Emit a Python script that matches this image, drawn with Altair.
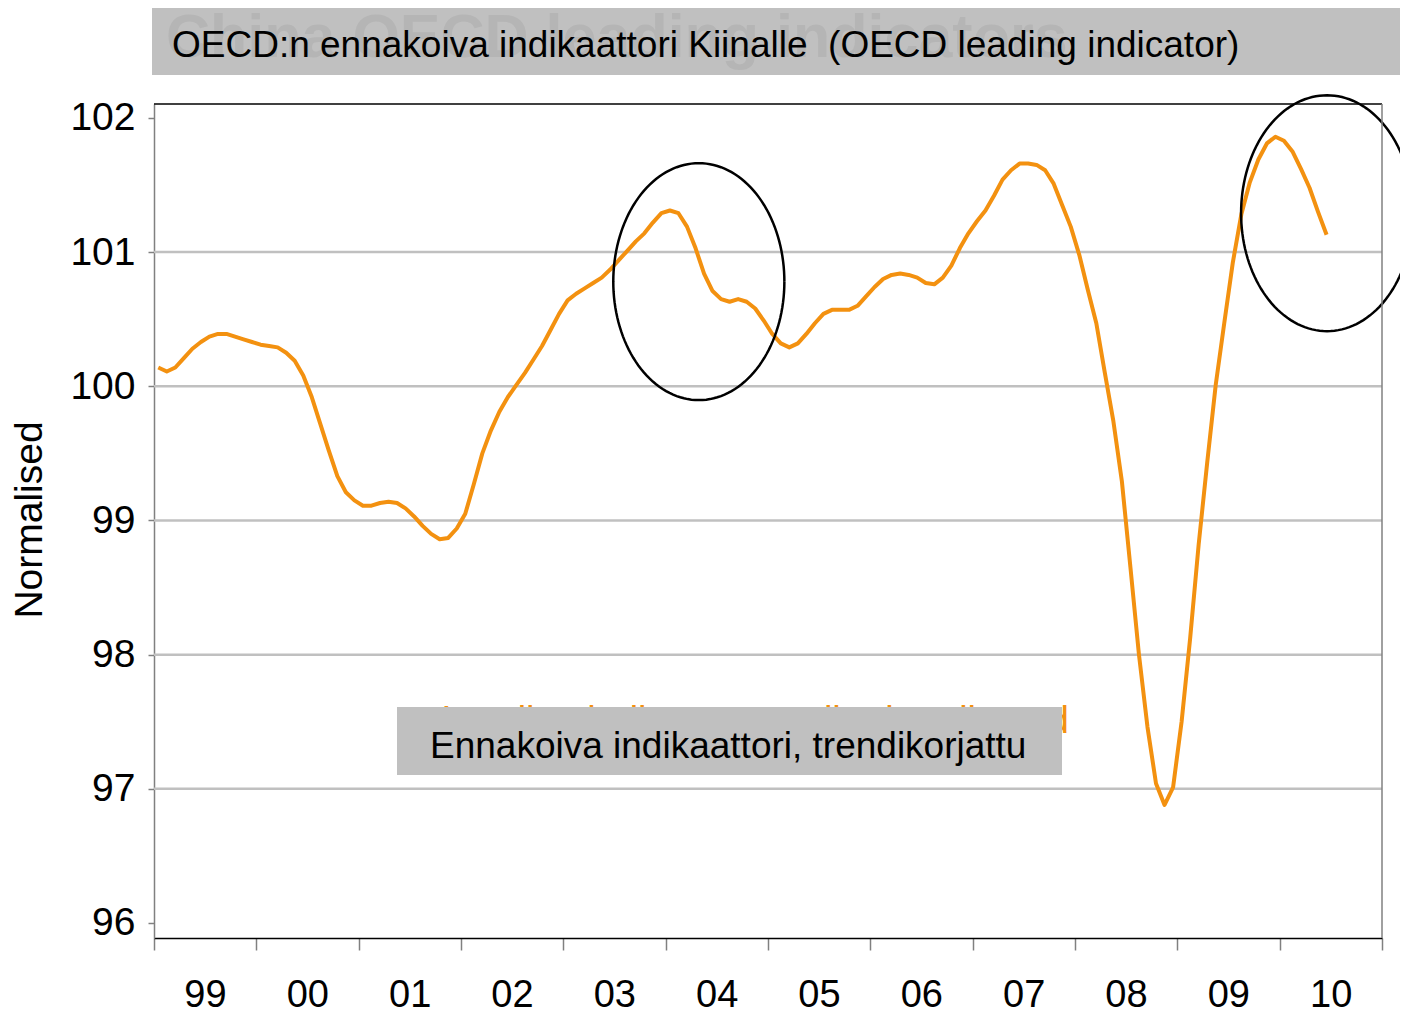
import altair as alt
import pandas as pd
import numpy as np

FONT = "Liberation Sans"
ORANGE = "#F39110"
BOX_GRAY = "#c0c0c0"

# ---- data (monthly) ----
years = [1999, 2000, 2001, 2002, 2003, 2004, 2005, 2006, 2007, 2008, 2009, 2010]
v1999 = [100.14, 100.11, 100.14, 100.21, 100.28, 100.33, 100.37, 100.39, 100.39, 100.37, 100.35, 100.33]
v2000 = [100.31, 100.30, 100.29, 100.25, 100.19, 100.08, 99.92, 99.72, 99.52, 99.33, 99.21, 99.15]
v2001 = [99.11, 99.11, 99.13, 99.14, 99.13, 99.09, 99.03, 98.96, 98.90, 98.86, 98.87, 98.94]
v2002 = [99.05, 99.27, 99.50, 99.67, 99.81, 99.92, 100.01, 100.10, 100.20, 100.30, 100.42, 100.54]
v2003 = [100.64, 100.69, 100.73, 100.77, 100.81, 100.87, 100.94, 101.01, 101.08, 101.14, 101.22, 101.29]
v2004 = [101.31, 101.29, 101.19, 101.03, 100.84, 100.71, 100.65, 100.63, 100.65, 100.63, 100.58, 100.49]
v2005 = [100.39, 100.32, 100.29, 100.32, 100.39, 100.47, 100.54, 100.57, 100.57, 100.57, 100.60, 100.67]
v2006 = [100.74, 100.80, 100.83, 100.84, 100.83, 100.81, 100.77, 100.76, 100.81, 100.90, 101.03, 101.14]
v2007 = [101.23, 101.31, 101.42, 101.54, 101.61, 101.66, 101.66, 101.65, 101.61, 101.51, 101.35, 101.19]
v2008 = [100.98, 100.72, 100.47, 100.10, 99.74, 99.29, 98.65, 98.00, 97.46, 97.04, 96.88, 97.01]
v2009 = [97.50, 98.12, 98.82, 99.43, 100.01, 100.47, 100.92, 101.28, 101.52, 101.69, 101.81, 101.86]
v2010 = [101.83, 101.75, 101.62, 101.48, 101.30, 101.13]
series = [v1999, v2000, v2001, v2002, v2003, v2004, v2005, v2006, v2007, v2008, v2009, v2010]

x_ticks = [1999, 2000, 2001, 2002, 2003, 2004, 2005, 2006, 2007, 2008, 2009, 2010, 2011]
y_ticks = [96, 97, 98, 99, 100, 101, 102]
grid_values = [97, 98, 99, 100, 101]

title_text = "OECD:n ennakoiva indikaattori Kiinalle \u00a0(OECD leading indicator)"
ghost_text = "China OECD leading indicators"
legend_text = "Ennakoiva indikaattori, trendikorjattu"
hidden_legend_text = "Leading indicator, amplitude adjusted"
y_title = "Normalised"

# annotation ellipses: centre (year, value) and radii (years, value units)
ellipse_centers = [(2004.324, 100.78), (2010.463, 101.29)]
ellipse_radii = [(0.836, 0.883), (0.840, 0.879)]

rows = []
for yr, vals in zip(years, series):
    for i, v in enumerate(vals):
        rows.append({"t": yr + (i + 0.5) / 12.0, "value": v})
df = pd.DataFrame(rows)

erows = []
th = np.linspace(0, 2 * np.pi, 145)
for eid, ((cx, cy), (rx, ry)) in enumerate(zip(ellipse_centers, ellipse_radii)):
    for k, a in enumerate(th):
        erows.append({"id": eid, "k": k, "t": cx + rx * np.cos(a), "value": cy + ry * np.sin(a)})
edf = pd.DataFrame(erows)

gdf = pd.DataFrame({"value": grid_values})
one = pd.DataFrame({"k": [0]})

W, H = 1228, 834
xscale = alt.Scale(domain=[1999, 2011], nice=False, zero=False)
yscale = alt.Scale(domain=[95.888, 102.104], nice=False, zero=False)

x_axis = alt.Axis(values=x_ticks, tickSize=12, tickColor="#808080", tickWidth=1.5,
                  domainColor="#000000", domainWidth=1.5,
                  labelFont=FONT, labelFontSize=38, labelColor="#000000",
                  labelOffset=51, labelPadding=26, labelFlush=False, labelOverlap=False,
                  labelExpr="datum.value >= 2011 ? '' : slice(toString(datum.value), 2)",
                  grid=False)
y_axis = alt.Axis(values=y_ticks, tickSize=6, tickColor="#808080", tickWidth=1.5,
                  domainColor="#808080", domainWidth=1.5,
                  labelFont=FONT, labelFontSize=39, labelColor="#000000",
                  labelPadding=13, labelOverlap=False, grid=False)

grid = alt.Chart(gdf).mark_rule(color=BOX_GRAY, strokeWidth=2.5).encode(
    y=alt.Y("value:Q", scale=yscale, title="", axis=y_axis)
)

line = alt.Chart(df).mark_line(color=ORANGE, strokeWidth=4, strokeJoin="round").encode(
    x=alt.X("t:Q", scale=xscale, title="", axis=x_axis),
    y=alt.Y("value:Q", scale=yscale, title="", axis=y_axis),
)

ellipses = alt.Chart(edf).mark_line(color="#000000", strokeWidth=2.5).encode(
    x=alt.X("t:Q", scale=xscale, title="", axis=x_axis),
    y=alt.Y("value:Q", scale=yscale, title="", axis=y_axis),
    detail="id:N",
    order="k:Q",
)

top_border = alt.Chart(one).mark_rule(color="#000000", strokeWidth=1.5).encode(
    x=alt.value(0), x2=alt.value(W), y=alt.value(0)
)
right_border = alt.Chart(one).mark_rule(color="#808080", strokeWidth=1.5).encode(
    x=alt.value(W), y=alt.value(0), y2=alt.value(H)
)

title_box = alt.Chart(one).mark_rect(color=BOX_GRAY).encode(
    x=alt.value(-2), x2=alt.value(1254), y=alt.value(-96), y2=alt.value(-29)
)
ghost = alt.Chart(one).mark_text(font=FONT, fontSize=61, fontWeight="bold", color="#b5b5b5",
                                 align="left", baseline="alphabetic").encode(
    x=alt.value(12), y=alt.value(-47), text=alt.value(ghost_text)
)
title = alt.Chart(one).mark_text(font=FONT, fontSize=37, color="#000000",
                                 align="left", baseline="alphabetic").encode(
    x=alt.value(18), y=alt.value(-47), text=alt.value(title_text)
)

hidden_legend = alt.Chart(one).mark_text(font=FONT, fontSize=38, color=ORANGE,
                                         align="right", baseline="alphabetic").encode(
    x=alt.value(915), y=alt.value(629), text=alt.value(hidden_legend_text)
)
legend_box = alt.Chart(one).mark_rect(color=BOX_GRAY).encode(
    x=alt.value(243), x2=alt.value(908), y=alt.value(603), y2=alt.value(671)
)
legend = alt.Chart(one).mark_text(font=FONT, fontSize=37, color="#000000",
                                  align="left", baseline="alphabetic").encode(
    x=alt.value(276), y=alt.value(654), text=alt.value(legend_text)
)

ytitle = alt.Chart(one).mark_text(font=FONT, fontSize=39, color="#000000", angle=270,
                                  align="center", baseline="middle").encode(
    x=alt.value(-124), y=alt.value(416), text=alt.value(y_title)
)

chart = alt.layer(
    grid, line, ellipses, top_border, right_border,
    title_box, ghost, title, hidden_legend, legend_box, legend, ytitle
).properties(
    width=W, height=H,
    padding={"left": 146, "top": 96, "right": 18, "bottom": 75},
    autosize=alt.AutoSizeParams(type="none"),
    background="#ffffff",
).configure_view(stroke="transparent")

chart.save("out.html", embed_options={"renderer": "svg", "actions": False})
